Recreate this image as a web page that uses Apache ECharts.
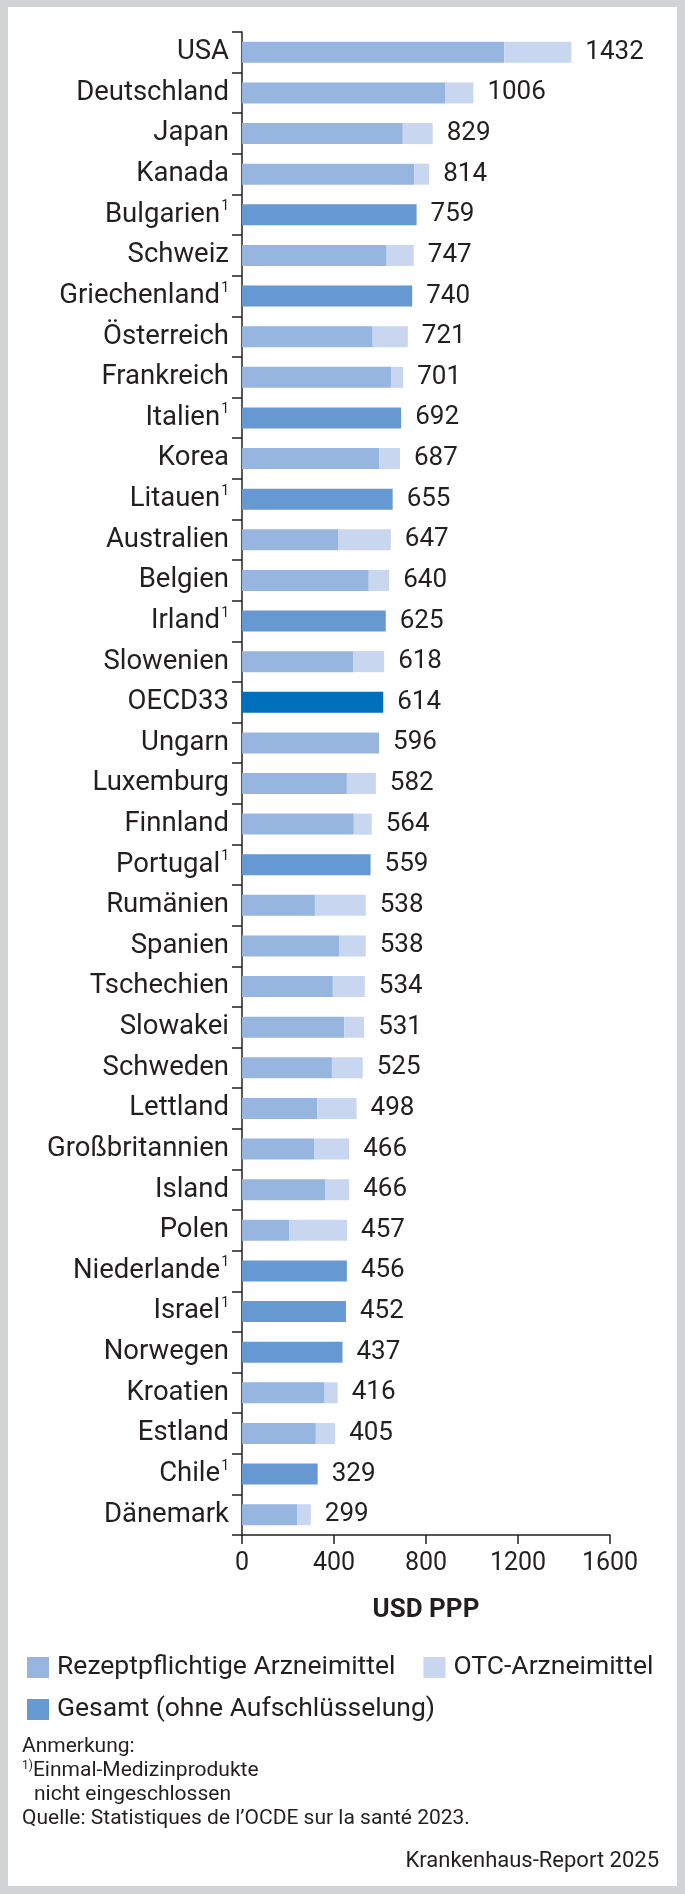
<!DOCTYPE html>
<html><head><meta charset="utf-8">
<script src="https://cdn.jsdelivr.net/npm/echarts@6/dist/echarts.min.js"></script>
<style>html,body{margin:0;padding:0;background:#d1d3d4}#c{width:685px;height:1894px}</style>
</head><body><div id="c"></div>
<script>
const categories = ['USA','Deutschland','Japan','Kanada','Bulgarien','Schweiz','Griechenland','Österreich','Frankreich','Italien','Korea','Litauen','Australien','Belgien','Irland','Slowenien','OECD33','Ungarn','Luxemburg','Finnland','Portugal','Rumänien','Spanien','Tschechien','Slowakei','Schweden','Lettland','Großbritannien','Island','Polen','Niederlande','Israel','Norwegen','Kroatien','Estland','Chile','Dänemark'];
const footnoted = ['Bulgarien','Griechenland','Italien','Litauen','Irland','Portugal','Niederlande','Israel','Chile'];
const totals = [1432,1006,829,814,759,747,740,721,701,692,687,655,647,640,625,618,614,596,582,564,559,538,538,534,531,525,498,466,466,457,456,452,437,416,405,329,299];
const rx  = [1140,885,699,749,'-',629,'-',568,648,'-',597,'-',418,551,'-',483,'-',596,456,486,'-',317,422,395,445,391,327,315,361,205,'-','-','-',359,321,'-',241];
const otc = [292,121,130,65,'-',118,'-',153,53,'-',90,'-',229,89,'-',135,'-',0,126,78,'-',221,116,139,86,134,171,151,105,252,'-','-','-',57,84,'-',58];
const gesamt = ['-','-','-','-',759,'-',740,'-','-',692,'-',655,'-','-',625,'-',614,'-','-','-',559,'-','-','-','-','-','-','-','-','-',456,452,437,'-','-',329,'-'];
const xTicks = [0,400,800,1200,1600];
const highlight = 'OECD33';

const TXT = '#231f20';
const FONT = 'Roboto';
const C_RX = '#96b6df', C_OTC = '#c8d6ef', C_GES = '#6699d2', C_OECD = '#0070ba';

const chart = echarts.init(document.getElementById('c'), null, {renderer:'canvas'});
const gesData = gesamt.map((v,i)=> categories[i]===highlight ? {value:v, itemStyle:{color:C_OECD}} : v);

chart.setOption({
  backgroundColor:'#d1d3d4',
  animation:false,
  textStyle:{fontFamily:FONT, color:TXT},
  graphic:[
    {type:'rect', z:-100, silent:true, shape:{x:8,y:7,width:669,height:1879}, style:{fill:'#ffffff'}},
    {type:'text', left:22, top:1736, style:{text:'Anmerkung:', fontFamily:FONT, fontSize:21, fill:TXT}},
    {type:'text', left:22, top:1760, style:{text:'{s|1)}{n|Einmal-Medizinprodukte}', fontFamily:FONT, fontSize:21, fill:TXT,
      rich:{s:{fontSize:12, verticalAlign:'top', fill:TXT, fontFamily:FONT}, n:{fontSize:21, fill:TXT, fontFamily:FONT}}}},
    {type:'text', left:34, top:1784, style:{text:'nicht eingeschlossen', fontFamily:FONT, fontSize:21, fill:TXT}},
    {type:'text', left:22, top:1808, style:{text:'Quelle: Statistiques de l\u2019OCDE sur la santé 2023.', fontFamily:FONT, fontSize:21, fill:TXT}},
    {type:'text', right:26, top:1850, style:{text:'Krankenhaus-Report 2025', fontFamily:FONT, fontSize:22, fill:TXT}}
  ],
  grid:{left:242, right:75, top:32, bottom:359, containLabel:false},
  legend:[
    {data:['Rezeptpflichtige Arzneimittel','OTC-Arzneimittel'], left:22, top:1649, orient:'horizontal',
     itemWidth:22, itemHeight:21, itemGap:28, icon:'rect', selectedMode:false,
     textStyle:{fontSize:26.5, color:TXT, fontFamily:FONT, padding:[0,0,0,3]}},
    {data:['Gesamt (ohne Aufschlüsselung)'], left:22, top:1691, orient:'horizontal',
     itemWidth:22, itemHeight:21, icon:'rect', selectedMode:false,
     textStyle:{fontSize:26.5, color:TXT, fontFamily:FONT, padding:[0,0,0,3]}}
  ],
  xAxis:{type:'value', min:0, max:1600, interval:400,
    axisLine:{show:true, lineStyle:{color:TXT, width:1.5}},
    axisTick:{show:true, length:9, inside:false, lineStyle:{color:TXT, width:1.5}},
    splitLine:{show:false},
    axisLabel:{fontSize:25, color:TXT, fontFamily:FONT, margin:16, formatter:v=> xTicks.includes(v) ? String(v) : ''},
    name:'USD PPP', nameLocation:'middle', nameGap:62,
    nameTextStyle:{fontSize:26, fontWeight:'bold', color:TXT, fontFamily:FONT}
  },
  yAxis:{type:'category', inverse:true, data:categories,
    axisLine:{show:true, lineStyle:{color:TXT, width:1.5}},
    axisTick:{show:true, length:10, inside:false, alignWithLabel:false, lineStyle:{color:TXT, width:1.5}},
    axisLabel:{margin:13, color:TXT, fontFamily:FONT, fontSize:27.5,
      formatter:(v)=> footnoted.includes(v) ? '{n|'+v+'}{s|1}' : '{n|'+v+'}',
      rich:{n:{fontSize:27.5, fontFamily:FONT, color:TXT, lineHeight:30},
            s:{fontSize:14, fontFamily:FONT, color:TXT, verticalAlign:'top', lineHeight:14, padding:[0,0,0,1]}}}
  },
  series:[
    {name:'Rezeptpflichtige Arzneimittel', type:'bar', stack:'a', data:rx, barWidth:21, barGap:'-100%', itemStyle:{color:C_RX}},
    {name:'OTC-Arzneimittel', type:'bar', stack:'a', data:otc, barWidth:21, barGap:'-100%', itemStyle:{color:C_OTC}},
    {name:'Gesamt (ohne Aufschlüsselung)', type:'bar', stack:'a', data:gesData, barWidth:21, barGap:'-100%', itemStyle:{color:C_GES}},
    {name:'labels', type:'bar', data:totals, barWidth:21, barGap:'-100%', itemStyle:{color:'rgba(0,0,0,0)'}, silent:true,
     label:{show:true, position:'right', distance:14, fontSize:26, color:TXT, fontFamily:FONT, formatter:'{c}'}}
  ]
});
</script></body></html>
